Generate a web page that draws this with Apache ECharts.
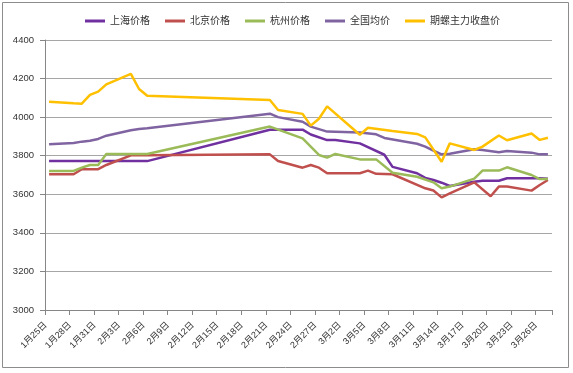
<!DOCTYPE html>
<html>
<head>
<meta charset="utf-8">
<script src="https://cdn.jsdelivr.net/npm/echarts@6/dist/echarts.min.js"></script>
<style>html,body{margin:0;padding:0;background:#fff;}#c{width:573px;height:373px;}</style>
</head>
<body>
<div id="c"></div>
<script>
// All calendar days on the axis (date axis, 1月25日 .. 3月27日)
var categories = [
 '1月25日','1月26日','1月27日','1月28日','1月29日','1月30日','1月31日',
 '2月1日','2月2日','2月3日','2月4日','2月5日','2月6日','2月7日','2月8日','2月9日','2月10日',
 '2月11日','2月12日','2月13日','2月14日','2月15日','2月16日','2月17日','2月18日','2月19日','2月20日',
 '2月21日','2月22日','2月23日','2月24日','2月25日','2月26日','2月27日','2月28日',
 '3月1日','3月2日','3月3日','3月4日','3月5日','3月6日','3月7日','3月8日','3月9日','3月10日',
 '3月11日','3月12日','3月13日','3月14日','3月15日','3月16日','3月17日','3月18日','3月19日','3月20日',
 '3月21日','3月22日','3月23日','3月24日','3月25日','3月26日','3月27日'
];
// Dates with observations
var tradeDates = [
 '1月25日','1月28日','1月29日','1月30日','1月31日','2月1日','2月4日','2月5日','2月6日',
 '2月21日','2月22日','2月25日','2月26日','2月27日','2月28日','3月1日','3月4日','3月5日','3月6日',
 '3月7日','3月8日','3月11日','3月12日','3月13日','3月14日','3月15日','3月18日','3月19日','3月20日',
 '3月21日','3月22日','3月25日','3月26日','3月27日'
];
var shanghai = [3772,3772,3772,3772,3772,3772,3772,3772,3772,
 3935,3935,3935,3910,null,3881,3881,3864,null,null,
 3805,3742,3709,3685,3674,3660,3643,3665,3670,null,
 3670,3683,3683,3683,3680];
var beijing = [3704,3704,3730,3730,3730,3752,3802,3802,3803,
 3807,3773,3738,3752,3738,3709,3709,3709,3723,3706,
 null,3704,null,3631,3620,3584,3605,3662,null,3590,
 3640,3640,3619,3648,3674];
var hangzhou = [3721,3721,3738,3752,3752,3809,3809,3809,3809,
 3951,null,3890,null,3804,3790,3809,3781,3781,3781,
 null,3712,3691,null,3662,3631,3640,3681,3723,3723,
 3723,3740,3700,3679,3679];
var national = [3859,3866,3873,3878,3887,3904,3932,3939,3943,
 4018,4000,3976,3951,null,3925,null,3920,null,3911,
 3892,null,3862,3847,3826,3807,3810,3834,3830,null,
 3818,3824,3816,3807,3807];
var futures = [4080,4072,4070,4115,4132,4170,4224,4146,4111,
 4089,4037,4017,3956,3992,4056,null,3909,3945,null,
 null,3928,3913,3895,null,3769,3864,3830,3847,null,
 3905,3880,3915,3882,3893];
var yTicks = {min: 3000, max: 4400, interval: 200};

function pairs(vals) {
  var out = [];
  for (var i = 0; i < tradeDates.length; i++) {
    if (vals[i] !== null) out.push([tradeDates[i], vals[i]]);
  }
  return out;
}
var FONT = "'Liberation Sans','Noto Sans CJK SC',sans-serif";
function line(name, color, vals) {
  return {
    name: name, type: 'line', data: pairs(vals), showSymbol: false, symbol: 'none',
    connectNulls: true, smooth: false,
    lineStyle: {color: color, width: 2.5}, itemStyle: {color: color},
    emphasis: {disabled: true}
  };
}
var chart = echarts.init(document.getElementById('c'), null, {renderer: 'canvas'});
chart.setOption({
  animation: false,
  backgroundColor: '#ffffff',
  graphic: [{
    type: 'rect', shape: {x: 2.5, y: 2.5, width: 566, height: 365},
    style: {fill: 'none', stroke: '#8c8c8c', lineWidth: 1}, silent: true, z: -1
  }],
  legend: {
    left: 80, top: 11, itemWidth: 20, itemHeight: 3, itemGap: 15, icon: 'rect',
    textStyle: {fontSize: 10, color: '#333', fontFamily: FONT},
    data: ['上海价格','北京价格','杭州价格','全国均价','期螺主力收盘价']
  },
  grid: {left: 45, right: 21, top: 40, bottom: 63, containLabel: false},
  xAxis: {
    type: 'category', data: categories, boundaryGap: true,
    axisLine: {lineStyle: {color: '#868686', width: 1}},
    axisTick: {show: true, interval: 2, length: 5, lineStyle: {color: '#868686'}},
    axisLabel: {interval: 2, rotate: 45, fontSize: 9, color: '#333', margin: 10,
      fontFamily: FONT, padding: [0, 5, 0, 0]},
    splitLine: {show: false}
  },
  yAxis: {
    type: 'value', min: yTicks.min, max: yTicks.max, interval: yTicks.interval,
    axisLine: {show: true, lineStyle: {color: '#868686', width: 1}},
    axisTick: {show: true, length: 5, lineStyle: {color: '#868686'}},
    axisLabel: {fontSize: 9.5, color: '#333', margin: 11, fontFamily: FONT,
      formatter: function (v) { return String(v); }},
    splitLine: {show: true, lineStyle: {color: '#a6a6a6', width: 1}}
  },
  series: [
    line('上海价格', '#7030A0', shanghai),
    line('北京价格', '#C0504D', beijing),
    line('杭州价格', '#9BBB59', hangzhou),
    line('全国均价', '#8064A2', national),
    line('期螺主力收盘价', '#FFC000', futures)
  ]
});
</script>
</body>
</html>
